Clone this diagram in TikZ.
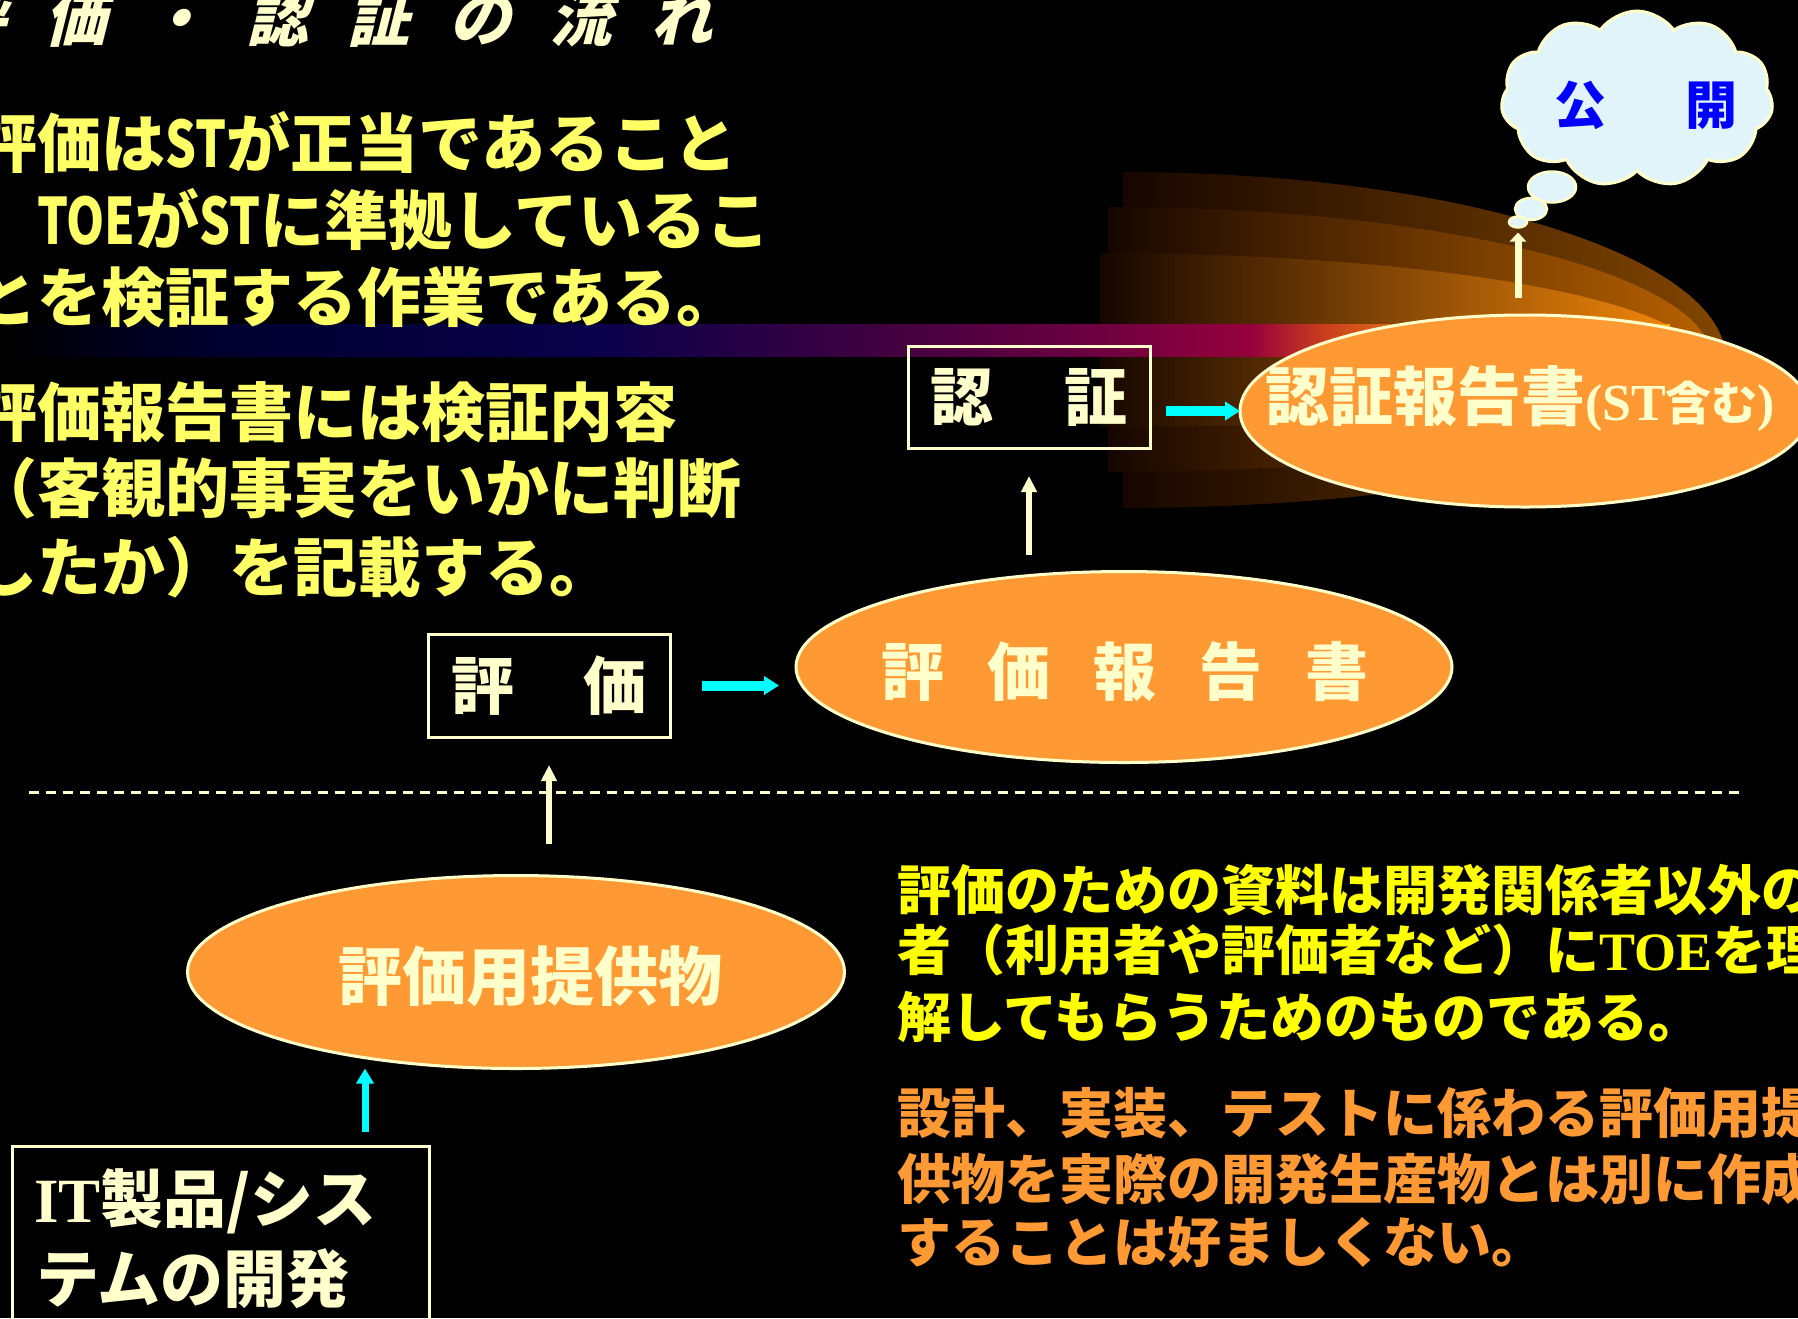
\documentclass[tikz,border=0pt]{standalone}
\usepackage{fontspec}
\usetikzlibrary{arrows.meta,shapes.geometric,shapes.symbols}
\newfontfamily\jp{Noto Sans CJK JP}
\newfontfamily\jpcond{Noto Sans CJK JP}[FakeStretch=0.76]
\newfontfamily\jpslant{Noto Sans CJK JP}[FakeSlant=0.25]
\newfontfamily\serifb{Liberation Serif}
\newcommand\fs[1]{\fontsize{#1}{#1}\selectfont}
\newcommand\tg{\hspace{39pt}}
\newcommand\cn[1]{{\jpcond\bfseries #1}}
\definecolor{cream}{RGB}{255,255,204}
\definecolor{ylwA}{RGB}{255,255,102}
\definecolor{ylwB}{RGB}{255,255,0}
\definecolor{orngT}{RGB}{255,153,51}
\definecolor{orng}{RGB}{255,153,51}
\definecolor{cyanA}{RGB}{0,255,255}
\definecolor{cloudc}{RGB}{225,244,249}
\definecolor{bluet}{RGB}{0,0,255}
\definecolor{glowL}{RGB}{22,6,0}
\definecolor{glowA}{RGB}{130,70,0}
\definecolor{glowB}{RGB}{185,98,0}
\definecolor{glowC}{RGB}{250,140,10}
\definecolor{bd0}{RGB}{0,0,0}
\definecolor{bd1}{RGB}{0,0,45}
\definecolor{bd2}{RGB}{10,0,75}
\definecolor{bd3}{RGB}{64,0,64}
\definecolor{bd4}{RGB}{110,0,64}
\definecolor{bd5}{RGB}{150,0,60}
\definecolor{bd6}{RGB}{200,60,30}
\definecolor{bd7}{RGB}{240,140,20}
\definecolor{bd8}{RGB}{250,170,0}
\begin{document}
\begin{tikzpicture}[x=1pt,y=-1pt,
  every node/.style={inner sep=0pt,outer sep=0pt},
  ptext/.style={anchor=base west,text=ylwA,font=\jp\bfseries\fs{64}},
  rtextA/.style={anchor=base west,text=ylwB,font=\jp\bfseries\fs{54}},
  rtextB/.style={anchor=base west,text=orngT,font=\jp\bfseries\fs{54}},
  boxtext/.style={text=cream,font=\jp\bfseries\fs{63}},
  rectbox/.style={draw=cream,line width=3pt,rectangle},
  oval/.style={ellipse,draw=cream,line width=3pt,fill=orng},
  bubble/.style={ellipse,draw=cream,line width=2.5pt,fill=cloudc},
  cyarrow/.style={draw=cyanA,line width=10pt,-{Triangle[length=15pt,width=18pt]}},
  cyarrowv/.style={draw=cyanA,line width=7pt,-{Triangle[length=15pt,width=17pt]}},
  crarrow/.style={draw=cream,line width=6pt,-{Triangle[length=16pt,width=15pt]}},
  crarrowc/.style={draw=cream,line width=7pt,-{Triangle[length=9pt,width=16pt]}}]
\useasboundingbox (0,0) rectangle (1798,1318);
\clip (0,0) rectangle (1798,1318);
\fill[black] (0,0) rectangle (1798,1318);

% glow layers
\shade[left color=glowL,right color=glowA] (1123,172) .. controls (1455,172) and (1726,256) .. (1726,360) .. controls (1726,442) and (1455,508) .. (1123,508) -- cycle;
\shade[left color=glowL,right color=glowB] (1108,207) .. controls (1442,207) and (1712,275) .. (1712,360) .. controls (1712,422) and (1442,472) .. (1108,472) -- cycle;
\shade[left color=glowL,right color=glowC] (1100,253) .. controls (1431,253) and (1700,301) .. (1700,360) .. controls (1700,397) and (1431,427) .. (1100,427) -- cycle;

% band
\shade[left color=bd0,right color=bd1] (0,324) rectangle (201,356);
\shade[left color=bd1,right color=bd2] (200,324) rectangle (601,356);
\shade[left color=bd2,right color=bd3] (600,324) rectangle (881,356);
\shade[left color=bd3,right color=bd4] (880,324) rectangle (1101,356);
\shade[left color=bd4,right color=bd5] (1100,324) rectangle (1251,356);
\shade[left color=bd5,right color=bd6] (1250,324) rectangle (1321,356);
\shade[left color=bd6,right color=bd7] (1320,324) rectangle (1451,356);
\shade[left color=bd7,right color=bd8] (1450,324) rectangle (1670,356);

% separator
\draw[cream,line width=3pt,dash pattern=on 10pt off 7pt] (29,792) -- (1740,792);

% title
\node[anchor=base west,text=cream,font=\jpslant\bfseries\fs{62}] (title) at (-56,41) {評\tg 価\tg ・\tg 認\tg 証\tg の\tg 流\tg れ};

% left paragraphs
\node[ptext] (p1a) at (-27,167) {評価は\cn{ST}が正当であること};
\node[ptext] (p1b) at (-27,244) {　\cn{TOE}が\cn{ST}に準拠しているこ};
\node[ptext] (p1c) at (-27,321) {とを検証する作業である。};
\node[ptext] (p2a) at (-27,436) {評価報告書には検証内容};
\node[ptext] (p2b) at (-27,512) {（客観的事実をいかに判断};
\node[ptext] (p2c) at (-27,591) {したか）を記載する。};

% right paragraphs
\node[rtextA] (ra1) at (897,910) {評価のための資料は開発関係者以外の};
\node[rtextA] (ra2) at (897,970) {者（利用者や評価者など）に{\serifb\bfseries TOE}を理};
\node[rtextA] (ra3) at (897,1037) {解してもらうためのものである。};
\node[rtextB] (rb1) at (897,1133) {設計、実装、テストに係わる評価用提};
\node[rtextB] (rb2) at (897,1199) {供物を実際の開発生産物とは別に作成};
\node[rtextB] (rb3) at (897,1262) {することは好ましくない。};

% boxes
\node[rectbox,boxtext,minimum width=242pt,minimum height=103pt] (hyoka) at (549,685.5) {評\hspace{70pt}価};
\node[rectbox,boxtext,minimum width=242pt,minimum height=102pt] (ninsho) at (1029,397) {認\hspace{71pt}証};
\node[rectbox,minimum width=417pt,minimum height=190pt] (itbox) at (220.5,1241) {};
\node[boxtext,anchor=base west] (it1) at (34,1222) {{\serifb\bfseries IT}製品/シス};
\node[boxtext,anchor=base west] (it2) at (36,1302) {テムの開発};

% ellipses
\node[oval,minimum width=656pt,minimum height=191pt] (hrep) at (1124,667) {};
\node[boxtext] (hrept) at (1125,672) {評\hspace{43pt}価\hspace{43pt}報\hspace{43pt}告\hspace{43pt}書};
\node[oval,minimum width=570pt,minimum height=192pt] (nrep) at (1525,411) {};
\node[anchor=base west,text=cream,font=\jp\bfseries\fs{64}] (nrept) at (1265,420) {認証報告書{\serifb\bfseries\fs{52}(ST}{\fs{46}含む}{\serifb\bfseries\fs{52})}};
\node[oval,minimum width=657pt,minimum height=193pt] (teikyo) at (516,972) {};
\node[boxtext,font=\jp\bfseries\fs{64}] (teikyot) at (530,976) {評価用提供物};

% arrows
\draw[cyarrow,shorten <=32pt,shorten >=17pt] (hyoka.east) -- (hyoka.east -| hrep.west);
\draw[cyarrow,shorten <=16pt] (ninsho.east |- nrep.west) -- (nrep.west);
\draw[crarrow,shorten <=17pt,shorten >=28pt] (ninsho.south |- hrep.north) -- (ninsho.south);
\draw[crarrow,shorten <=32pt,shorten >=28pt] (hyoka.south |- teikyo.north) -- (hyoka.south);
\coordinate (itx) at (365,1132);
\draw[cyarrowv,shorten <=14pt] (itbox.north -| itx) -- (itx |- teikyo.south);

% cloud
\node[cloud,cloud puffs=11,cloud puff arc=110,cloud ignores aspect,minimum width=272pt,minimum height=176pt,fill=cloudc,draw=cream,line width=3pt] (cloud) at (1637,99) {};
\node[text=bluet,font=\jp\bfseries\fs{52}] (kokai) at (1646,105) {公\hspace{80pt}開};
\node[bubble,minimum width=48pt,minimum height=31pt] (b1) at (1552,187) {};
\node[bubble,minimum width=32pt,minimum height=22pt] (b2) at (1531,209) {};
\node[bubble,minimum width=18pt,minimum height=11pt] (b3) at (1518,222) {};
\draw[crarrowc,shorten <=17pt,shorten >=5pt] (b3 |- nrep.north) -- (b3);
\end{tikzpicture}
\end{document}
